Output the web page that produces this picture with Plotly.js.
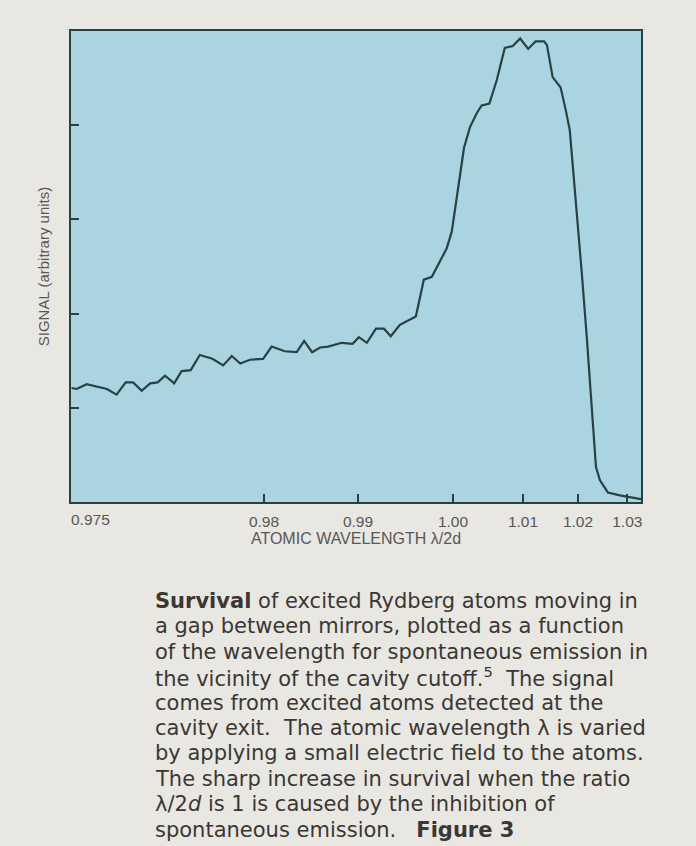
<!DOCTYPE html>
<html>
<head>
<meta charset="utf-8">
<script src="https://cdn.plot.ly/plotly-3.0.1.min.js"></script>
<style>
  html, body { margin: 0; padding: 0; background: #e9e7e1; }
  #chart { width: 696px; height: 846px; }
</style>
</head>
<body>
<div id="chart"></div>
<script>
// Scan position along the horizontal axis (linear in the applied field, 0–100)
const scanPos = [
  0.1, 1.0, 2.75, 4.8, 6.3, 8.0, 9.6, 10.9, 12.4, 13.9, 15.2, 16.5, 18.1, 19.4, 21.0,
  22.6, 24.8, 26.7, 28.2, 29.7, 31.4, 33.7, 35.2, 37.5, 39.6, 40.9, 42.3, 43.7, 45.1,
  47.5, 49.4, 50.5, 51.9, 53.5, 54.9, 56.1, 57.7, 60.5, 61.9, 63.3, 65.9, 66.8, 67.5,
  68.25, 68.95, 70.0, 71.2, 72.05, 73.4, 74.7, 76.1, 77.5, 78.8, 80.2, 81.5, 83.0,
  83.5, 84.5, 85.9, 86.8, 87.5, 88.1, 88.6, 89.6, 90.5, 91.35, 92.1, 92.8, 94.2,
  96.3, 98.6, 100.0
];

// Detected signal (arbitrary units)
const signal = [
  1.21, 1.20, 1.25, 1.22, 1.20, 1.14, 1.27, 1.27, 1.18, 1.26, 1.27, 1.34, 1.26, 1.39, 1.40,
  1.56, 1.52, 1.45, 1.55, 1.47, 1.51, 1.52, 1.65, 1.60, 1.59, 1.71, 1.59, 1.64, 1.65,
  1.69, 1.68, 1.75, 1.69, 1.84, 1.84, 1.76, 1.88, 1.97, 2.36, 2.39, 2.69, 2.87, 3.15,
  3.47, 3.76, 3.98, 4.13, 4.21, 4.23, 4.48, 4.82, 4.84, 4.92, 4.81, 4.89, 4.89,
  4.85, 4.51, 4.40, 4.16, 3.95, 3.52, 3.17, 2.44, 1.74, 1.03, 0.37, 0.23, 0.10,
  0.07, 0.05, 0.03
];

// Wavelength ratio λ/2d marked along the scan
const tickPos = [33.86, 50.35, 67.02, 79.3, 88.95, 97.6];
const tickLabels = ['0.98', '0.99', '1.00', '1.01', '1.02', '1.03'];
const startLabelPos = 3.5;
const startLabel = '0.975';

// Signal tick positions (unlabelled)
const signalTicks = [1, 2, 3, 4];

// Caption text, one entry per printed line
const captionLines = [
  '<b>Survival</b> of excited Rydberg atoms moving in',
  'a gap between mirrors, plotted as a function',
  'of the wavelength for spontaneous emission in',
  'the vicinity of the cavity cutoff.<sup>5</sup>  The signal',
  'comes from excited atoms detected at the',
  'cavity exit.  The atomic wavelength λ is varied',
  'by applying a small electric field to the atoms.',
  'The sharp increase in survival when the ratio',
  'λ/2<i>d</i> is 1 is caused by the inhibition of',
  'spontaneous emission.   <b>Figure 3</b>'
];

const W = 696, H = 846;
const M = { l: 71, r: 55, t: 31, b: 344 };
const plotH = H - M.t - M.b;
const plotW = W - M.l - M.r;
const pxToPaperY = py => (H - M.b - py) / plotH;
const pxToPaperX = px => (px - M.l) / plotW;

const frameColor = '#2a4141';
const axisFont = 'Liberation Sans, Arial, sans-serif';
const tickFont = { family: axisFont, size: 15.5, color: '#575757' };

const annotations = [];
// leftmost wavelength label (printed without a tick mark)
annotations.push({
  x: startLabelPos, xref: 'x', y: 0, yref: 'paper',
  text: startLabel, showarrow: false, xanchor: 'center', yanchor: 'top',
  yshift: -7, font: tickFont
});

captionLines.forEach((line, i) => {
  annotations.push({
    x: pxToPaperX(155), xref: 'paper',
    y: pxToPaperY(601 + i * 25.4), yref: 'paper',
    text: line, showarrow: false, xanchor: 'left', yanchor: 'middle', align: 'left',
    borderpad: 0, borderwidth: 0,
    font: { family: 'DejaVu Sans, Noto Sans, sans-serif', size: 21, color: '#3a3734' }
  });
});

const trace = {
  x: scanPos, y: signal, type: 'scatter', mode: 'lines',
  line: { color: frameColor, width: 2.2 }, hoverinfo: 'skip'
};

const layout = {
  width: W, height: H,
  margin: M,
  paper_bgcolor: '#e9e7e1',
  plot_bgcolor: '#aad4e0',
  showlegend: false,
  xaxis: {
    range: [0, 100], showgrid: false, zeroline: false,
    showline: true, mirror: true, linecolor: frameColor, linewidth: 2,
    tickmode: 'array', tickvals: tickPos, ticktext: tickLabels,
    ticks: 'inside', ticklen: 8, tickwidth: 2, tickcolor: frameColor,
    tickfont: tickFont, ticklabelstandoff: 4,
    title: { text: 'ATOMIC WAVELENGTH λ/2d', font: { family: axisFont, size: 16, color: '#575757' }, standoff: 4 }
  },
  yaxis: {
    range: [0, 5], showgrid: false, zeroline: false,
    showline: true, mirror: true, linecolor: frameColor, linewidth: 2,
    tickmode: 'array', tickvals: signalTicks, showticklabels: false,
    ticks: 'inside', ticklen: 8, tickwidth: 2, tickcolor: frameColor,
    title: { text: 'SIGNAL (arbitrary units)', font: { family: axisFont, size: 15, color: '#575757' }, standoff: 16 }
  },
  annotations: annotations
};

Plotly.newPlot('chart', [trace], layout, { staticPlot: true, displayModeBar: false });
</script>
</body>
</html>
